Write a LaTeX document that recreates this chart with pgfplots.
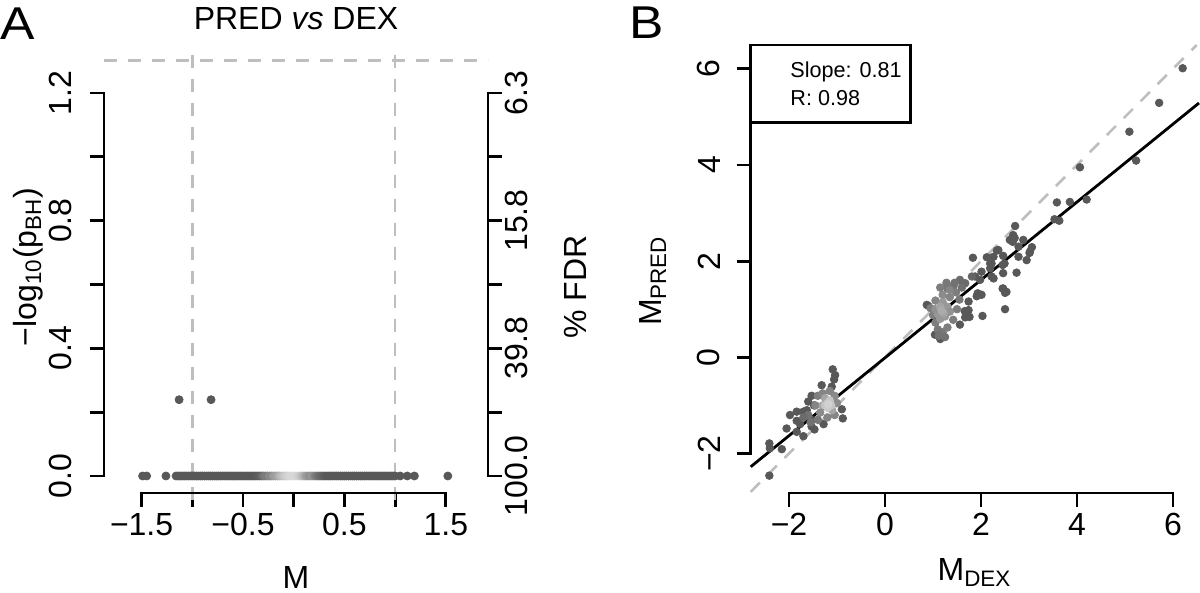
\documentclass[border=0pt]{standalone}
\usepackage{fontspec}
\setmainfont{Liberation Sans}
\usepackage{pgfplots}
\pgfplotsset{compat=1.18}
\definecolor{dgray}{RGB}{190,190,190}
\pgfplotsset{
  rstyle/.style={
    scale only axis,
    anchor=south west,
    axis line style={draw=none},
    tick align=outside,
    major tick length=7pt,
    tick style={black, line width=1.4pt},
    tick label style={font=\fontsize{16}{19}\selectfont, inner sep=0pt},
    xticklabel shift=3pt,
    clip=false,
    colormap={dens}{rgb255=(88,88,88) rgb255=(215,215,215)},
    point meta min=0, point meta max=1,
  }
}
\begin{document}
\begin{tikzpicture}
\useasboundingbox (0,0) rectangle (600pt,296.5pt);
% ---------------- Panel A (left axis) ----------------
\begin{axis}[rstyle,
  at={(52pt,50pt)}, width=192pt, height=223pt,
  xmin=-1.8708, xmax=1.9162, ymin=-0.0533, ymax=1.344,
  axis x line*=bottom, axis y line*=left,
  xtick={-1.5,-1,-0.5,0,0.5,1,1.5},
  xticklabels={−1.5,{},−0.5,{},0.5,{},1.5},
  ytick={0,0.2,0.4,0.6,0.8,1,1.2},
  yticklabels={0.0,{},0.4,{},0.8,{},1.2},
  yticklabel style={rotate=90, anchor=south},
  yticklabel shift=9pt,
  xticklabel style={anchor=north},
]
\addplot[scatter, only marks, mark=*, mark size=2pt, point meta=explicit,
  scatter/use mapped color={draw=mapped color, fill=mapped color}] coordinates {
(-1.49,0)[0] (-1.45,0)[0] (-1.26,0)[0]
(-1.16,0)[0] (-1.14,0)[0] (-1.12,0)[0] (-1.10,0)[0] (-1.08,0)[0] (-1.06,0)[0] (-1.04,0)[0] (-1.02,0)[0]
(-1.00,0)[0] (-0.98,0)[0] (-0.96,0)[0] (-0.94,0)[0] (-0.92,0)[0] (-0.90,0)[0] (-0.88,0)[0] (-0.86,0)[0]
(-0.84,0)[0] (-0.82,0)[0] (-0.80,0)[0] (-0.78,0)[0] (-0.76,0)[0] (-0.74,0)[0] (-0.72,0)[0] (-0.70,0)[0]
(-0.68,0)[0] (-0.66,0)[0] (-0.64,0)[0] (-0.62,0)[0] (-0.60,0)[0] (-0.58,0)[0] (-0.56,0)[0] (-0.54,0)[0]
(-0.52,0)[0] (-0.50,0)[0] (-0.48,0)[0] (-0.46,0)[0] (-0.44,0)[0] (-0.42,0)[0] (-0.40,0)[0] (-0.38,0)[0]
(-0.36,0)[0.02] (-0.34,0)[0.05] (-0.32,0)[0.1] (-0.30,0)[0.2] (-0.28,0)[0.3] (-0.26,0)[0.28]
(-0.24,0)[0.4] (-0.22,0)[0.38] (-0.20,0)[0.5] (-0.18,0)[0.55] (-0.16,0)[0.6] (-0.14,0)[0.7]
(-0.12,0)[0.78] (-0.10,0)[0.85] (-0.08,0)[0.9] (-0.06,0)[0.95] (-0.04,0)[1] (-0.02,0)[1]
(0.00,0)[1] (0.02,0)[1] (0.04,0)[0.95] (0.06,0)[0.9] (0.08,0)[0.8] (0.10,0)[0.7] (0.12,0)[0.55]
(0.14,0)[0.5] (0.16,0)[0.42] (0.18,0)[0.5] (0.20,0)[0.38] (0.22,0)[0.3] (0.24,0)[0.2]
(0.26,0)[0.15] (0.28,0)[0.1] (0.30,0)[0.05] (0.32,0)[0.02]
(0.34,0)[0] (0.36,0)[0] (0.38,0)[0] (0.40,0)[0] (0.42,0)[0] (0.44,0)[0] (0.46,0)[0] (0.48,0)[0]
(0.50,0)[0] (0.52,0)[0] (0.54,0)[0] (0.56,0)[0] (0.58,0)[0] (0.60,0)[0] (0.62,0)[0] (0.64,0)[0]
(0.66,0)[0] (0.68,0)[0] (0.70,0)[0] (0.72,0)[0] (0.74,0)[0] (0.76,0)[0] (0.78,0)[0] (0.80,0)[0]
(0.82,0)[0] (0.84,0)[0] (0.86,0)[0] (0.88,0)[0] (0.90,0)[0] (0.92,0)[0] (0.94,0)[0] (0.96,0)[0]
(0.98,0)[0] (1.00,0)[0]
(1.05,0)[0] (1.12,0)[0] (1.19,0)[0] (1.52,0)[0]
(-1.13,0.239)[0] (-0.815,0.239)[0]
};
\addplot[dgray, line width=1.3pt, dash pattern=on 6.5pt off 5.5pt] coordinates {(-1.8708,1.301) (1.9162,1.301)};
\addplot[dgray, line width=1.3pt, dash pattern=on 6.5pt off 5.5pt] coordinates {(-1,-0.075) (-1,1.344)};
\addplot[dgray, line width=1.3pt, dash pattern=on 6.5pt off 5.5pt] coordinates {(1,-0.075) (1,1.344)};
\draw[line width=1.4pt, line cap=rect] (axis cs:-1.5,-0.0533) -- (axis cs:1.5,-0.0533);
\draw[line width=1.4pt, line cap=rect] (axis cs:-1.8708,0) -- (axis cs:-1.8708,1.2);
\end{axis}
% ---------------- Panel A (right axis) ----------------
\begin{axis}[rstyle,
  at={(52pt,50pt)}, width=192pt, height=223pt,
  xmin=-1.8708, xmax=1.9162, ymin=-0.0533, ymax=1.344,
  axis y line*=right, axis x line=none,
  ytick={0,0.2,0.4,0.6,0.8,1,1.2},
  yticklabels={100.0,{},39.8,{},15.8,{},6.3},
  yticklabel style={rotate=90, anchor=north},
  yticklabel shift=1.5pt,
]
\draw[line width=1.4pt, line cap=rect] (axis cs:1.9162,0) -- (axis cs:1.9162,1.2);
\end{axis}
% ---------------- Panel B ----------------
\begin{axis}[rstyle,
  at={(375.35pt,50pt)}, width=224.15pt, height=224pt,
  xmin=-2.798, xmax=6.54, ymin=-2.821, ymax=6.493,
  axis x line*=bottom, axis y line*=left,
  xtick={-2,0,2,4,6}, xticklabels={−2,0,2,4,6},
  ytick={-2,0,2,4,6}, yticklabels={−2,0,2,4,6},
  yticklabel style={rotate=90, anchor=south},
  yticklabel shift=8pt,
  xticklabel style={anchor=north},
]
\addplot[scatter, only marks, mark=*, mark size=1.9pt, point meta=explicit,
  scatter/use mapped color={draw=mapped color, fill=mapped color}] coordinates {
(6.20,6.01)[0] (5.71,5.29)[0] (5.09,4.69)[0] (5.23,4.09)[0] (4.06,3.95)[0] (3.58,3.22)[0]
(3.85,3.23)[0] (4.20,3.28)[0] (3.53,2.87)[0] (3.63,2.84)[0] (2.71,2.73)[0] (2.66,2.50)[0]
(2.70,2.48)[0] (2.66,2.40)[0] (2.88,2.44)[0] (3.06,2.29)[0] (3.01,2.17)[0] (2.78,2.30)[0]
(2.78,2.09)[0] (2.36,2.23)[0] (2.46,2.11)[0] (2.26,2.09)[0] (2.12,2.08)[0] (1.83,2.07)[0]
(2.19,1.95)[0] (2.45,1.92)[0] (2.46,1.75)[0] (2.74,1.76)[0] (2.19,1.85)[0] (2.01,1.78)[0]
(2.26,1.64)[0] (2.45,1.43)[0] (2.53,1.36)[0] (1.875,1.68)[0] (2.01,1.30)[0] (2.50,1.00)[0]
(2.03,0.86)[0] (1.76,0.84)[0] (1.56,0.68)[0] (1.15,0.38)[0] (1.04,0.47)[0] (0.90,1.07)[0]
(1.66,0.96)[0] (1.91,1.27)[0] (2.50,1.34)[0] (1.93,1.33)[0] (1.74,1.16)[0] (1.74,0.98)[0]
(1.67,0.83)[0] (0.87,1.09)[0] (2.33,2.22)[0] (2.60,2.44)[0] (2.67,2.54)[0] (3.02,2.20)[0]
(2.95,2.02)[0] (2.49,1.95)[0] (2.22,1.95)[0] (2.22,1.68)[0] (1.98,1.61)[0] (2.46,1.43)[0]
(-1.09,-0.25)[0] (-1.04,-0.37)[0] (-1.06,-0.46)[0] (-1.32,-0.58)[0] (-1.11,-0.61)[0]
(-1.53,-0.80)[0] (-1.60,-0.92)[0] (-0.90,-1.08)[0] (-0.88,-1.27)[0] (-1.28,-1.39)[0]
(-1.53,-1.30)[0] (-1.70,-1.13)[0] (-1.84,-1.13)[0] (-1.98,-1.20)[0] (-1.84,-1.32)[0]
(-1.77,-1.39)[0] (-2.05,-1.48)[0] (-1.84,-1.55)[0] (-1.70,-1.64)[0] (-1.53,-1.44)[0]
(-1.47,-1.50)[0] (-2.41,-1.79)[0] (-2.40,-1.89)[0] (-2.15,-1.91)[0] (-2.41,-2.46)[0]
(-1.63,-1.10)[0] (-1.48,-1.00)[0]
(1.42,1.47)[0.2] (1.56,1.61)[0.15] (1.67,1.54)[0.15] (1.81,1.68)[0.1] (1.30,1.43)[0.25]
(0.95,1.02)[0.3] (1.00,0.88)[0.3] (1.05,0.72)[0.3] (1.10,0.58)[0.25] (1.20,0.52)[0.25]
(1.30,0.62)[0.3] (1.42,0.78)[0.3] (1.50,1.00)[0.3] (1.55,1.20)[0.25] (1.48,1.35)[0.3]
(1.35,1.40)[0.35] (1.20,1.30)[0.4] (1.05,1.18)[0.35] (1.15,1.45)[0.3] (1.28,1.55)[0.25]
(1.45,1.55)[0.2] (1.60,1.45)[0.2] (1.12,0.45)[0.2] (1.25,0.42)[0.2] (1.35,1.25)[0.35]
(1.10,0.90)[0.5] (1.20,1.00)[0.55] (1.15,0.80)[0.5] (1.25,0.85)[0.5] (1.30,1.05)[0.5]
(1.20,1.15)[0.5] (1.05,1.00)[0.45] (1.35,0.95)[0.45] (1.15,1.05)[0.6] (1.22,0.92)[0.6]
(1.18,0.97)[0.65]
(-1.40,-0.80)[0.3] (-1.30,-0.75)[0.35] (-1.45,-1.00)[0.35] (-1.35,-1.15)[0.4] (-1.20,-1.25)[0.35]
(-1.05,-1.20)[0.35] (-1.00,-0.95)[0.4] (-1.05,-0.80)[0.4] (-1.15,-0.70)[0.35] (-1.60,-1.20)[0.2]
(-1.55,-1.35)[0.2] (-1.70,-1.25)[0.15] (-1.40,-1.30)[0.25]
(-1.25,-0.85)[0.6] (-1.10,-1.10)[0.6] (-1.30,-1.00)[0.6] (-1.20,-0.95)[0.8] (-1.15,-0.90)[0.85]
(-1.25,-1.00)[0.85] (-1.12,-1.00)[0.85] (-1.20,-1.05)[0.9] (-1.18,-0.97)[0.95]
};
\addplot[dgray, line width=1.3pt, dash pattern=on 6.5pt off 5.5pt] coordinates {(-2.798,-2.798) (6.493,6.493)};
\addplot[black, line width=1.4pt] coordinates {(-2.798,-2.276) (6.54,5.287)};
\draw[line width=1.4pt, fill=white] (axis cs:-2.798,6.493) rectangle (axis cs:0.535,4.877);
\node[anchor=base west, inner sep=0pt, font=\fontsize{10.8}{13}\selectfont] at (axis cs:-1.979,5.807) {Slope: 0.81};
\node[anchor=base west, inner sep=0pt, font=\fontsize{10.8}{13}\selectfont] at (axis cs:-1.979,5.245) {R: 0.98};
\draw[line width=1.4pt, line cap=rect] (axis cs:-2,-2.821) -- (axis cs:6,-2.821);
\draw[line width=1.4pt, line cap=rect] (axis cs:-2.798,-2) -- (axis cs:-2.798,6);
\end{axis}
% ---------------- Texts ----------------
\node[anchor=base west, inner sep=0pt, font=\fontsize{23}{27}\selectfont, xscale=1.12] at (0pt,276.5pt) {A};
\node[anchor=base west, inner sep=0pt, font=\fontsize{23}{27}\selectfont, xscale=1.12] at (314.3pt,277pt) {B};
\node[anchor=base, inner sep=0pt, font=\fontsize{16}{19}\selectfont] at (148pt,281.5pt) {PRED \textit{vs} DEX};
\node[anchor=base, inner sep=0pt, font=\fontsize{16}{19}\selectfont] at (148pt,2pt) {M};
\node[anchor=base, inner sep=0pt, font=\fontsize{16}{19}\selectfont] at (487.25pt,6pt) {M\textsubscript{DEX}};
\node[anchor=base, inner sep=0pt, rotate=90, font=\fontsize{16}{19}\selectfont] at (18pt,163pt) {−log\textsubscript{10}(p\textsubscript{BH})};
\node[anchor=base, inner sep=0pt, rotate=90, font=\fontsize{16}{19}\selectfont] at (330.5pt,156pt) {M\textsubscript{PRED}};
\node[anchor=base, inner sep=0pt, rotate=90, font=\fontsize{16}{19}\selectfont] at (293pt,153pt) {\% FDR};
\end{tikzpicture}
\end{document}
